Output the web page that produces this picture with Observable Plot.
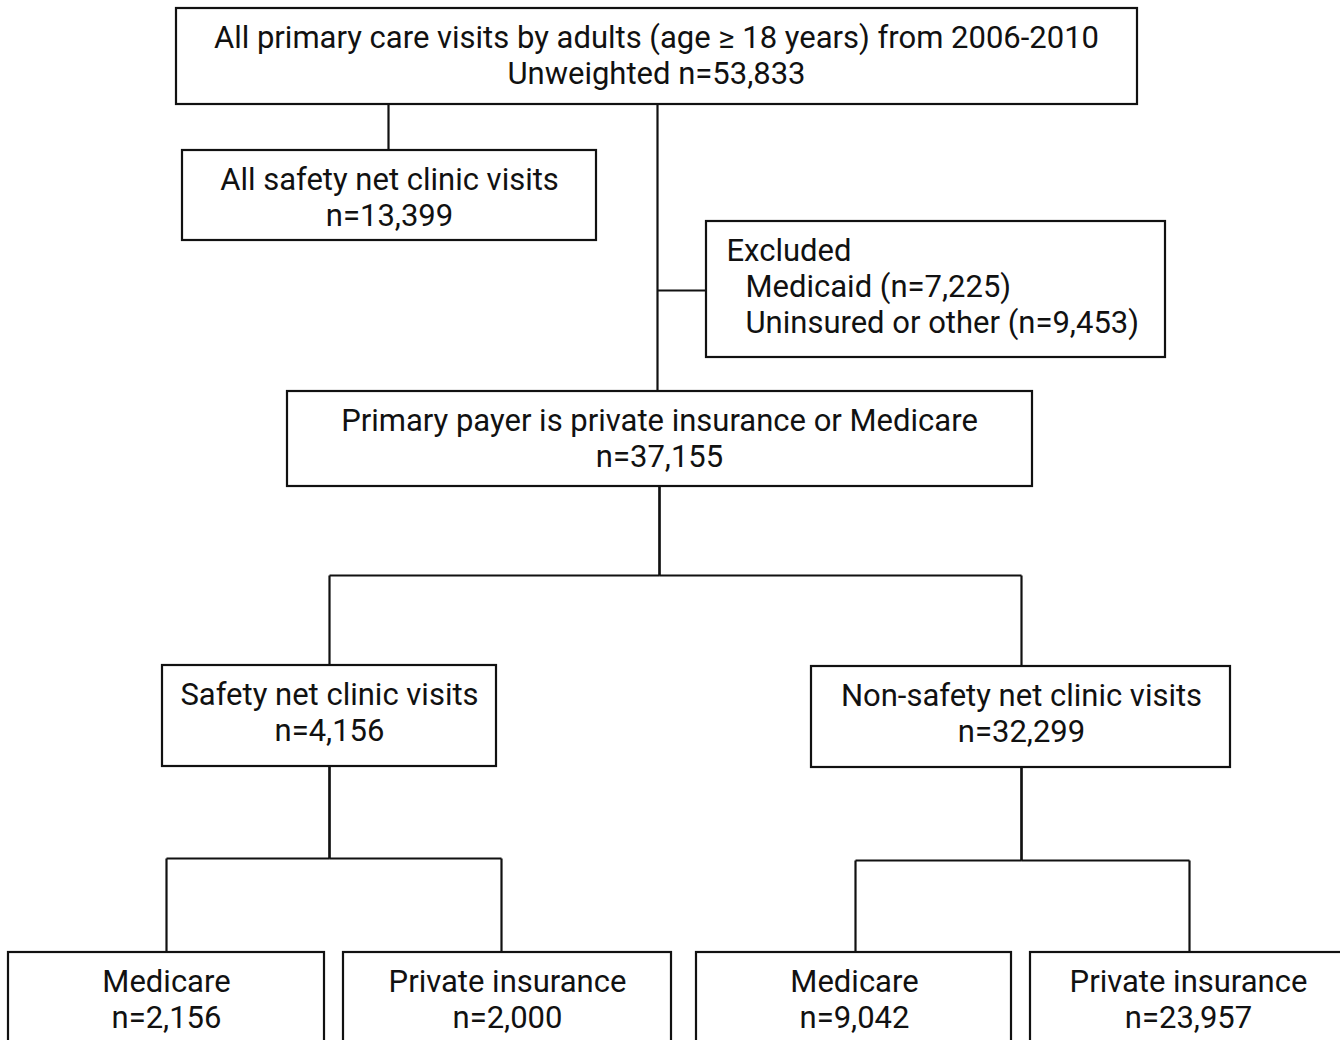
<!DOCTYPE html>
<html>
<head>
<meta charset="utf-8">
<script src="https://cdn.jsdelivr.net/npm/d3@7"></script>
<script src="https://cdn.jsdelivr.net/npm/@observablehq/plot@0.6"></script>
<style>
  html, body { margin: 0; padding: 0; background: #fff; overflow: hidden; }
</style>
</head>
<body>
<div id="chart"></div>
<script>
// ---- Data ----
const nodeIds = ["all", "safetyAll", "primary", "safety", "nonSafety", "snMedicare", "snPrivate", "nsMedicare", "nsPrivate"];
const nodeTitles = [
  "All primary care visits by adults (age \u2265 18 years) from 2006-2010",
  "All safety net clinic visits",
  "Primary payer is private insurance or Medicare",
  "Safety net clinic visits",
  "Non-safety net clinic visits",
  "Medicare",
  "Private insurance",
  "Medicare",
  "Private insurance"
];
const nodeCounts = [53833, 13399, 37155, 4156, 32299, 2156, 2000, 9042, 23957];
const nodePrefix = ["Unweighted n=", "n=", "n=", "n=", "n=", "n=", "n=", "n=", "n="];
const excludedTitle = "Excluded";
const excludedLabels = ["Medicaid", "Uninsured or other"];
const excludedCounts = [7225, 9453];
const edges = [
  ["all", "safetyAll"], ["all", "primary"],
  ["primary", "safety"], ["primary", "nonSafety"],
  ["safety", "snMedicare"], ["safety", "snPrivate"],
  ["nonSafety", "nsMedicare"], ["nonSafety", "nsPrivate"]
];

// ---- Layout (pixel geometry of the diagram) ----
const layout = {
  all:        {x1: 176, x2: 1137, y1: 8,   y2: 104, cx: 656},
  safetyAll:  {x1: 182, x2: 596,  y1: 150, y2: 240, cx: 389},
  primary:    {x1: 287, x2: 1032, y1: 391, y2: 486, cx: 659},
  safety:     {x1: 162, x2: 496,  y1: 665, y2: 766, cx: 329},
  nonSafety:  {x1: 811, x2: 1230, y1: 666, y2: 767, cx: 1021},
  snMedicare: {x1: 8,   x2: 324,  y1: 952, y2: 1060, cx: 166},
  snPrivate:  {x1: 343, x2: 671,  y1: 952, y2: 1060, cx: 507},
  nsMedicare: {x1: 696, x2: 1011, y1: 952, y2: 1060, cx: 854},
  nsPrivate:  {x1: 1030, x2: 1360, y1: 952, y2: 1060, cx: 1188}
};
const excludedBox = {x1: 706, x2: 1165, y1: 221, y2: 357};
const edgeX = {all: {safetyAll: 388, primary: 657}, primary: {safety: 659, nonSafety: 659},
               safety: {snMedicare: 329, snPrivate: 329}, nonSafety: {nsMedicare: 1021, nsPrivate: 1021}};
const childX = {safetyAll: 388, primary: 657, safety: 329, nonSafety: 1021,
                snMedicare: 166, snPrivate: 501, nsMedicare: 855, nsPrivate: 1189};
const busY = {primary: 575, safety: 858, nonSafety: 860};

const fmt = d3.format(",");

// Boxes
const boxes = nodeIds.map((id) => ({id, ...layout[id]}));
boxes.push({id: "excluded", ...excludedBox});

// Text lines
const texts = [];
nodeIds.forEach((id, i) => {
  const b = layout[id];
  texts.push({x: b.cx, y: b.y1 + 30, t: nodeTitles[i], anchor: "middle"});
  texts.push({x: b.cx, y: b.y1 + 66, t: nodePrefix[i] + fmt(nodeCounts[i]), anchor: "middle"});
});
texts.push({x: excludedBox.x1 + 20, y: excludedBox.y1 + 30, t: excludedTitle, anchor: "start"});
excludedLabels.forEach((l, i) => {
  texts.push({x: excludedBox.x1 + 39, y: excludedBox.y1 + 66 + 36 * i, t: `${l} (n=${fmt(excludedCounts[i])})`, anchor: "start"});
});

// Connector segments
const segs = [];
edges.forEach(([p, c]) => {
  const P = layout[p], C = layout[c];
  if (p === "all") {
    const x = childX[c];
    segs.push({x1: x, y1: P.y2, x2: x, y2: C.y1});
  } else {
    const by = busY[p];
    const px = edgeX[p][c];
    const cx = childX[c];
    segs.push({x1: px, y1: P.y2, x2: px, y2: by});
    segs.push({x1: px, y1: by, x2: cx, y2: by});
    segs.push({x1: cx, y1: by, x2: cx, y2: C.y1});
  }
});
segs.push({x1: 657, y1: 290, x2: excludedBox.x1, y2: 290});

const chart = Plot.plot({
  width: 1340,
  height: 1040,
  margin: 0,
  x: {domain: [0, 1340], axis: null},
  y: {domain: [0, 1040], reverse: true, axis: null},
  style: {background: "#fff", fontFamily: "Roboto, 'Open Sans', sans-serif"},
  marks: [
    Plot.link(segs, {x1: "x1", y1: "y1", x2: "x2", y2: "y2", stroke: "#111", strokeWidth: 2.2}),
    Plot.rect(boxes, {x1: "x1", x2: "x2", y1: "y1", y2: "y2", fill: "#fff", stroke: "#111", strokeWidth: 2.2}),
    Plot.text(texts.filter(d => d.anchor === "middle"), {x: "x", y: "y", text: "t", textAnchor: "middle", fontSize: 31, fill: "#111"}),
    Plot.text(texts.filter(d => d.anchor === "start"), {x: "x", y: "y", text: "t", textAnchor: "start", fontSize: 31, fill: "#111"})
  ]
});
document.getElementById("chart").appendChild(chart);
</script>
</body>
</html>
